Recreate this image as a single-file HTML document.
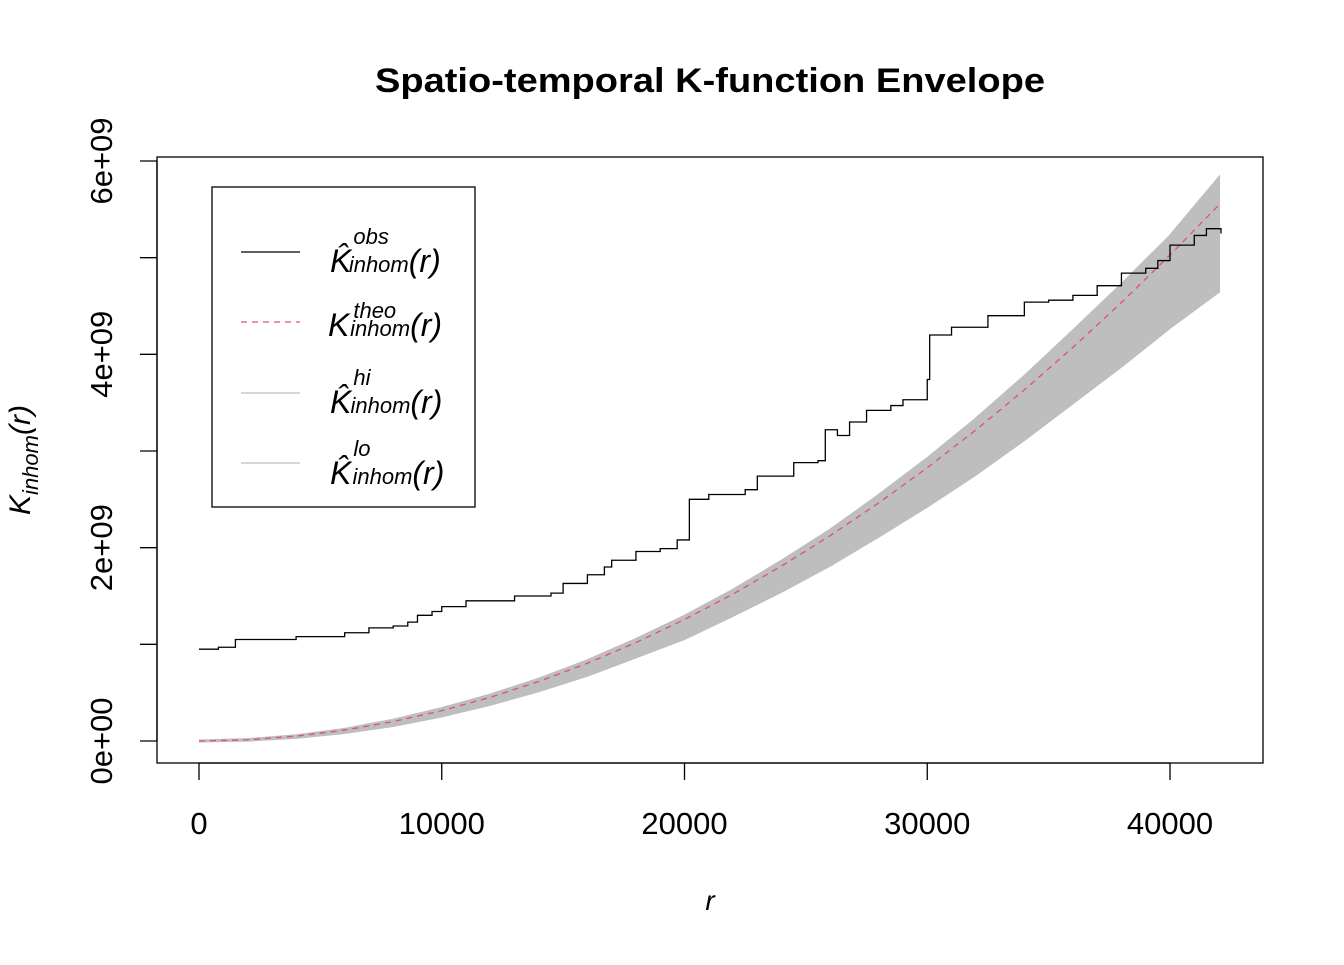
<!DOCTYPE html>
<html><head><meta charset="utf-8"><style>
body{margin:0;background:#fff}
svg{font-family:"Liberation Sans",Arial,sans-serif}
</style></head><body>
<svg id="chart" width="1344" height="960">
<text x="710" y="92" text-anchor="middle" font-size="34" font-weight="bold" textLength="670" lengthAdjust="spacingAndGlyphs">Spatio-temporal K-function Envelope</text>
<rect x="157" y="157" width="1106" height="606" fill="none" stroke="#000" stroke-width="1.3"/>
<g id="xaxis"></g>
<g id="yaxis"></g>
<g id="series"></g>
<text x="710" y="910" text-anchor="middle" font-size="28" font-style="italic">r</text>
<text transform="translate(30,460) rotate(-90)" text-anchor="middle" font-size="30" font-style="italic">K<tspan font-size="22" dy="8">inhom</tspan><tspan dy="-8">(r)</tspan></text>
<g>
<rect x="212" y="187" width="263" height="320" fill="#fff" stroke="#000" stroke-width="1.3"/>
<line x1="241" y1="252" x2="300" y2="252" stroke="#000" stroke-width="1.3"/>
<text x="330" y="272" font-size="32" font-style="italic">K̂<tspan font-size="22" dy="-28" dx="2">obs</tspan><tspan font-size="22" dy="28" dx="-40">inhom</tspan><tspan>(r)</tspan></text>
<line x1="241" y1="322" x2="300" y2="322" stroke="#DF536B" stroke-width="1.3" stroke-dasharray="6,5"/>
<text x="328" y="336" font-size="32" font-style="italic">K<tspan font-size="22" dy="-18" dx="4">theo</tspan><tspan font-size="22" dy="18" dx="-46">inhom</tspan><tspan>(r)</tspan></text>
<line x1="241" y1="393" x2="300" y2="393" stroke="#BEBEBE" stroke-width="1.3"/>
<text x="330" y="413" font-size="32" font-style="italic">K̂<tspan font-size="22" dy="-28" dx="2">hi</tspan><tspan font-size="22" dy="28" dx="-20">inhom</tspan><tspan>(r)</tspan></text>
<line x1="241" y1="463" x2="300" y2="463" stroke="#BEBEBE" stroke-width="1.3"/>
<text x="330" y="484" font-size="32" font-style="italic">K̂<tspan font-size="22" dy="-28" dx="2">lo</tspan><tspan font-size="22" dy="28" dx="-18">inhom</tspan><tspan>(r)</tspan></text>
</g>
</svg>
<script>
const envR = [0,2000,4000,6000,8000,10000,12000,14000,16000,18000,20000,22000,24000,26000,28000,30000,32000,34000,36000,38000,40000,42000];
const theoVals = [0,0.0126,0.0503,0.113,0.201,0.314,0.452,0.616,0.804,1.018,1.257,1.520,1.810,2.124,2.463,2.827,3.217,3.632,4.072,4.536,5.027,5.542];
const hiVals = [0,0.014,0.055,0.12,0.215,0.335,0.475,0.64,0.83,1.05,1.29,1.56,1.86,2.18,2.54,2.92,3.33,3.77,4.24,4.72,5.22,5.82];
const loVals = [0,0.009,0.038,0.088,0.16,0.26,0.38,0.52,0.68,0.87,1.06,1.30,1.55,1.82,2.12,2.43,2.76,3.12,3.50,3.88,4.28,4.65];
const obsR = [0,800,1500,4000,6000,7000,8000,8600,9000,9600,10000,11000,13000,14500,15000,16000,16700,17000,18000,19000,19700,20200,21000,22500,23000,24500,25500,25800,26300,26800,27500,28500,29000,30000,30100,31000,32500,34000,35000,36000,37000,38000,39000,39500,40000,41000,41500,42100];
const obsVals = [0.95,0.97,1.05,1.08,1.12,1.17,1.19,1.23,1.3,1.34,1.39,1.45,1.5,1.53,1.63,1.72,1.8,1.87,1.96,1.99,2.08,2.5,2.55,2.6,2.74,2.88,2.9,3.22,3.16,3.3,3.42,3.47,3.53,3.74,4.2,4.28,4.4,4.54,4.56,4.61,4.71,4.84,4.89,4.97,5.13,5.23,5.3,5.25];
const xTicks = [0,10000,20000,30000,40000];
const yTicks = [0,1,2,3,4,5,6];
const yTickLabels = ['0e+00','','2e+09','','4e+09','','6e+09'];

const NS='http://www.w3.org/2000/svg';
const xs = r => 199 + r*(1170-199)/40000;
const ys = v => 741 - v*(741-161)/6;
function mk(tag, attrs, parent){const e=document.createElementNS(NS,tag);for(const k in attrs)e.setAttribute(k,attrs[k]);parent.appendChild(e);return e;}
const xa=document.getElementById('xaxis'), ya=document.getElementById('yaxis'), sg=document.getElementById('series');
mk('line',{x1:xs(0),x2:xs(40000),y1:763,y2:763,stroke:'#000','stroke-width':1.3},xa);
xTicks.forEach(t=>{
  const l=mk('line',{x1:xs(t),x2:xs(t),y1:763,y2:780,stroke:'#000','stroke-width':1.3},xa);
  
  
  const tx=mk('text',{x:xs(t),y:834,'text-anchor':'middle','font-size':31},xa);tx.textContent=t;
  
  
});
mk('line',{x1:157,x2:157,y1:ys(0),y2:ys(6),stroke:'#000','stroke-width':1.3},ya);
yTicks.forEach((t,i)=>{
  const l=mk('line',{x1:140,x2:157,y1:ys(t),y2:ys(t),stroke:'#000','stroke-width':1.3},ya);
  
  
  if(yTickLabels[i]){
    const tx=mk('text',{transform:`translate(112,${ys(t)}) rotate(-90)`,'text-anchor':'middle','font-size':31},ya);tx.textContent=yTickLabels[i];
    
    
  }
});
let d='M'+envR.map((r,i)=>xs(r)+','+ys(hiVals[i])).join('L');
for(let i=envR.length-1;i>=0;i--) d+='L'+xs(envR[i])+','+ys(loVals[i]);
const band=mk('path',{d:d+'Z',fill:'#BEBEBE',stroke:'#BEBEBE','stroke-width':3},sg);


const theo=mk('polyline',{points:envR.map((r,i)=>xs(r)+','+ys(theoVals[i])).join(' '),fill:'none',stroke:'#DF536B','stroke-width':1.3,'stroke-dasharray':'6,5'},sg);


let pts=[];
obsR.forEach((r,i)=>{ if(i>0) pts.push(xs(r)+','+ys(obsVals[i-1])); pts.push(xs(r)+','+ys(obsVals[i])); });
const obs=mk('polyline',{points:pts.join(' '),fill:'none',stroke:'#000','stroke-width':1.3},sg);


</script>
</body></html>
